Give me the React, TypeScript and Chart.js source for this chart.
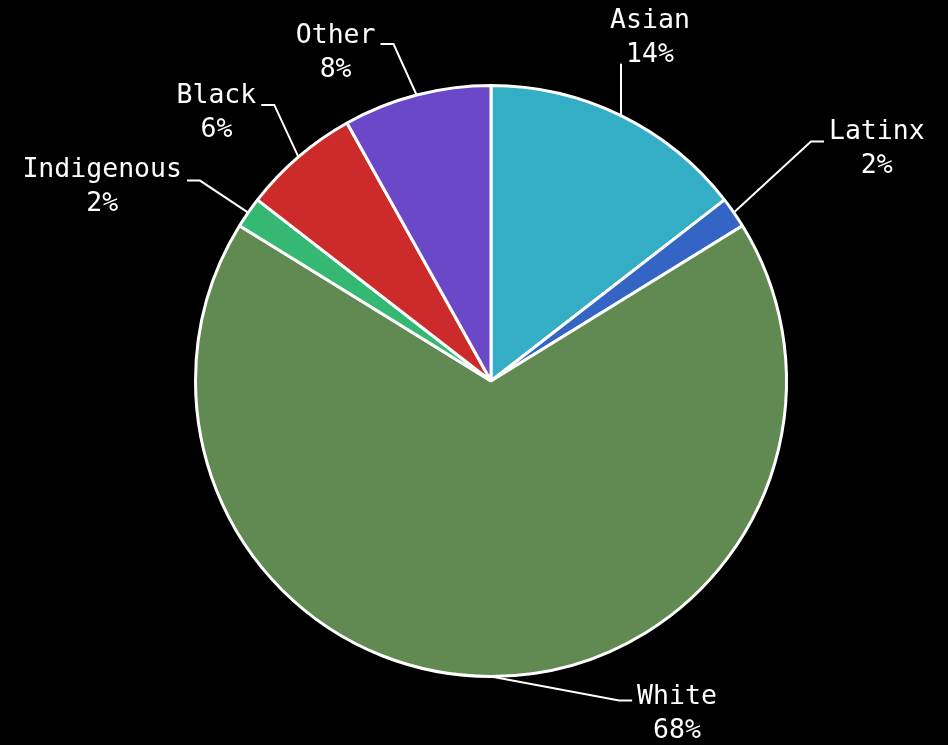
import React, { useEffect, useRef } from "react";
import { Chart, registerables } from "chart.js";

Chart.register(...registerables);

const categories = ["Asian", "Latinx", "White", "Indigenous", "Black", "Other"];
const shares = [14.5, 1.7, 67.6, 1.7, 6.4, 8.1];
const percentLabels = ["14%", "2%", "68%", "2%", "6%", "8%"];
const sliceColors = ["#34AEC5", "#3464C4", "#608A52", "#35B872", "#CD2B2B", "#6B48C7"];

// label layout: offset of label centre from the slice's outer mid-point, and leader style
const labelLayout = [
  { dx: 29, dy: -78, side: "vertical", conn: 26 },
  { dx: 143, dy: -63, side: "left", conn: -8 },
  { dx: 186, dy: 38, side: "left", conn: -14 },
  { dx: -146, dy: -25, side: "right", conn: -7 },
  { dx: -82, dy: -44, side: "right", conn: -8 },
  { dx: -81, dy: -42, side: "right", conn: -9 },
];

const FONT = "26.5px 'DejaVu Sans Mono'";
const LINE = 34;

const labelPlugin = {
  id: "outsideLabels",
  afterDatasetsDraw(chart: any) {
    const ctx = chart.ctx;
    const meta = chart.getDatasetMeta(0);
    ctx.save();
    ctx.font = FONT;
    ctx.fillStyle = "#ffffff";
    ctx.strokeStyle = "#ffffff";
    ctx.lineWidth = 2;
    ctx.textAlign = "center";
    ctx.textBaseline = "middle";
    meta.data.forEach((arc: any, i: number) => {
      const p = arc.getProps(["x", "y", "startAngle", "endAngle", "outerRadius"], true);
      const mid = (p.startAngle + p.endAngle) / 2;
      const ex = p.x + Math.cos(mid) * p.outerRadius;
      const ey = p.y + Math.sin(mid) * p.outerRadius;
      const lay = labelLayout[i];
      const cx = ex + lay.dx;
      const cy = ey + lay.dy;
      const l1 = categories[i];
      const l2 = percentLabels[i];
      const w = Math.max(ctx.measureText(l1).width, ctx.measureText(l2).width);
      ctx.beginPath();
      ctx.moveTo(ex, ey);
      if (lay.side === "vertical") {
        ctx.lineTo(ex, cy + lay.conn);
      } else if (lay.side === "left") {
        const endX = cx - w / 2 - 5;
        const yy = cy + lay.conn;
        ctx.lineTo(endX - 13, yy);
        ctx.lineTo(endX, yy);
      } else {
        const endX = cx + w / 2 + 5;
        const yy = cy + lay.conn;
        ctx.lineTo(endX + 13, yy);
        ctx.lineTo(endX, yy);
      }
      ctx.stroke();
      ctx.fillText(l1, cx, cy - LINE / 2);
      ctx.fillText(l2, cx, cy + LINE / 2);
    });
    ctx.restore();
  },
};

export default function App() {
  const ref = useRef<HTMLCanvasElement>(null);
  useEffect(() => {
    document.body.style.margin = "0";
    document.body.style.background = "#000";
    const chart = new Chart(ref.current!, {
      type: "pie",
      data: {
        labels: categories,
        datasets: [
          {
            data: shares,
            backgroundColor: sliceColors,
            borderColor: "#ffffff",
            borderWidth: 3,
          },
        ],
      },
      options: {
        animation: false,
        responsive: false,
        maintainAspectRatio: false,
        layout: { padding: { top: 84, bottom: 67, left: 194, right: 160 } },
        plugins: {
          legend: { display: false },
          tooltip: { enabled: false },
        },
      },
      plugins: [labelPlugin],
    });
    return () => chart.destroy();
  }, []);
  return (
    <div style={{ width: 948, height: 745, background: "#000" }}>
      <canvas ref={ref} width={948} height={745} style={{ display: "block" }} />
    </div>
  );
}
